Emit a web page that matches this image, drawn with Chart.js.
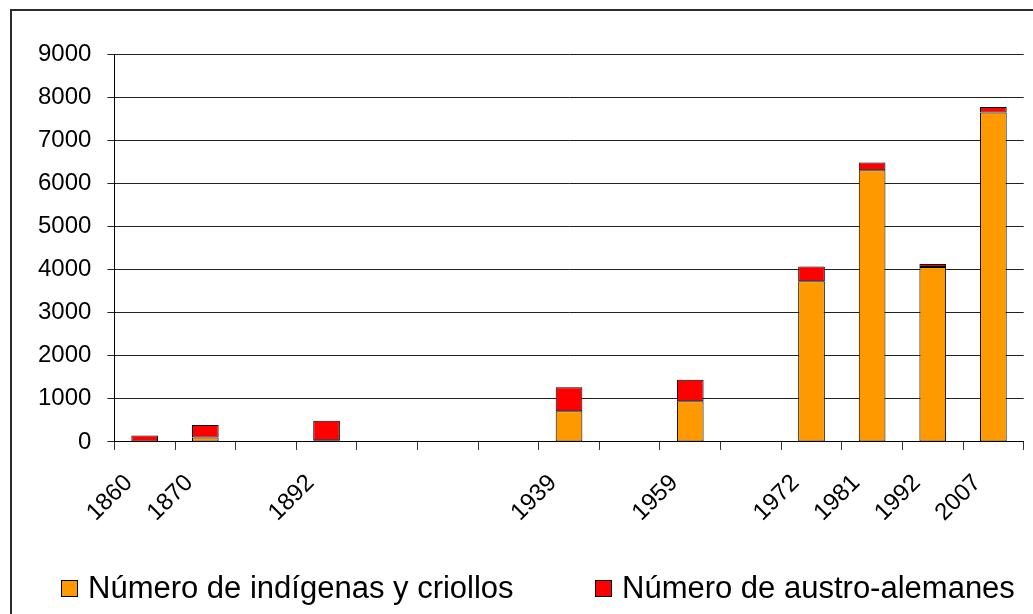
<!DOCTYPE html>
<html>
<head>
<meta charset="utf-8">
<script src="https://cdn.jsdelivr.net/npm/chart.js@4.4.1/dist/chart.umd.min.js"></script>
<style>
  html, body { margin: 0; padding: 0; background: #fff; overflow: hidden; }
  #frame { position: absolute; left: 10px; top: 9px; width: 1100px; height: 700px; border: 2px solid #2b2b2b; }
  #wrap { position: absolute; left: 0; top: 0; width: 1033px; height: 614px; }
  .lg-item { position: absolute; top: 572px; height: 32px; display: flex; align-items: center;
             font-family: "Liberation Sans", Arial, sans-serif; font-size: 31px; color: #000; white-space: nowrap; }
  .lg-box { width: 15px; height: 15px; border: 1px solid #000; margin-right: 10px; }
</style>
</head>
<body>
<div id="frame"></div>
<div id="wrap"><canvas id="chart" width="1033" height="614"></canvas></div>
<div id="legend"></div>
<script>
// census years (empty slots keep the spacing of the original axis)
var categories = ["1860", "1870", "", "1892", "", "", "", "1939", "", "1959", "", "1972", "1981", "1992", "2007"];
var indigenas = [0, 100, null, 40, null, null, null, 710, null, 940, null, 3730, 6300, 4060, 7640];
var austroAlemanes = [150, 290, null, 450, null, null, null, 560, null, 500, null, 340, 180, 70, 130];
var yTicks = [0, 1000, 2000, 3000, 4000, 5000, 6000, 7000, 8000, 9000];
var seriesNames = ["Número de indígenas y criollos", "Número de austro-alemanes"];
var seriesColors = ["#FF9900", "#FF0000"];

var font = "'Liberation Sans', Arial, sans-serif";

var ctx = document.getElementById("chart").getContext("2d");
var chart = new Chart(ctx, {
  type: "bar",
  data: {
    labels: categories,
    datasets: [
      {
        label: seriesNames[0],
        data: indigenas,
        backgroundColor: seriesColors[0],
        borderColor: "#000",
        borderWidth: 1,
        borderSkipped: false,
      },
      {
        label: seriesNames[1],
        data: austroAlemanes,
        backgroundColor: seriesColors[1],
        borderColor: "#000",
        borderWidth: 1,
        borderSkipped: false,
      },
    ],
  },
  options: {
    responsive: false,
    animation: false,
    layout: { padding: { left: 22, right: 8, top: 54, bottom: 68 } },
    datasets: { bar: { categoryPercentage: 1, barPercentage: 0.44 } },
    plugins: { legend: { display: false }, tooltip: { enabled: false } },
    scales: {
      x: {
        stacked: true,
        grid: { drawOnChartArea: false, offset: true, tickLength: 8, color: "#333" },
        border: { color: "#000", width: 1 },
        ticks: {
          autoSkip: false,
          minRotation: 45,
          maxRotation: 45,
          padding: 19,
          labelOffset: -16,
          color: "#000",
          font: { family: font, size: 24 },
        },
      },
      y: {
        stacked: true,
        min: 0,
        max: 9000,
        afterBuildTicks: function (scale) {
          scale.ticks = yTicks.map(function (v) { return { value: v }; });
        },
        grid: { color: "#222", lineWidth: 1, tickLength: 7 },
        border: { color: "#000", width: 1 },
        ticks: {
          padding: 16,
          color: "#000",
          font: { family: font, size: 24 },
          callback: function (value) { return String(value); },
        },
      },
    },
  },
});

// legend built from the chart's datasets
var legendX = [61, 595];
var legend = document.getElementById("legend");
chart.data.datasets.forEach(function (ds, i) {
  var item = document.createElement("div");
  item.className = "lg-item";
  item.style.left = legendX[i] + "px";
  var box = document.createElement("span");
  box.className = "lg-box";
  box.style.background = ds.backgroundColor;
  item.appendChild(box);
  item.appendChild(document.createTextNode(ds.label));
  legend.appendChild(item);
});
</script>
</body>
</html>
